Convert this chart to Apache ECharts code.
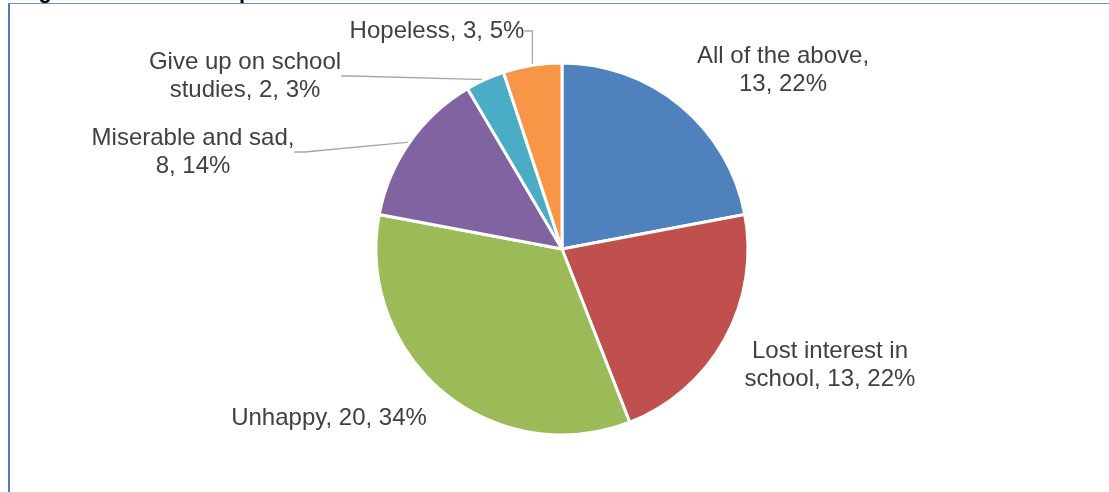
<!DOCTYPE html>
<html>
<head>
<meta charset="UTF-8">
<title>Pie chart</title>
<script type="text/javascript" src="https://cdn.jsdelivr.net/npm/echarts@6/dist/echarts.min.js"></script>
<style>
  html, body { margin:0; padding:0; background:#fff; }
  #frame { position:absolute; left:8px; top:3px; width:1101px; height:489px;
           border-left:2px solid #4a7ebb; border-top:1px solid #6a93c6; }
  #main { position:absolute; left:0; top:0; width:1109px; height:492px; }
</style>
</head>
<body>
<div id="main"></div>
<div id="frame"></div>
<script type="text/javascript">
  // slices, clockwise from 12 o'clock
  var names = ['All of the above', 'Lost interest in school', 'Unhappy',
               'Miserable and sad', 'Give up on school studies', 'Hopeless'];
  var counts = [13, 13, 20, 8, 2, 3];
  var colors = ['#4f81bd', '#c0504d', '#9bbb59', '#8064a2', '#4bacc6', '#f79646'];
  // where the label text wraps (char index of the space to break), 0 = no wrap
  var breakAt = [17, 16, 0, 18, 17, 0];
  // label centres, like in the excel chart
  var labelPos = [[783, 70], [830, 365], [329, 418], [193, 152], [245, 76], [437, 31]];
  var leader = [false, false, false, true, true, true];

  var myChart = echarts.init(document.getElementById('main'));

  var option = {
    animation: false,
    title: {
      text: 'Figure 4: Student responses',
      left: 14,
      top: -24,
      textStyle: { fontFamily: 'Liberation Sans', fontSize: 22, fontWeight: 'bold', color: '#000' }
    },
    series: [{
      type: 'pie',
      center: [562, 249],
      radius: [0, 186],
      startAngle: 90,
      itemStyle: { borderColor: '#fff', borderWidth: 3 },
      label: {
        show: true,
        position: 'outside',
        color: '#404040',
        fontFamily: 'Liberation Sans',
        fontSize: 24,
        lineHeight: 28,
        align: 'center',
        formatter: function (p) {
          var s = p.name + ', ' + p.value + ', ' + Math.round(p.percent) + '%';
          var b = breakAt[p.dataIndex];
          if (b > 0) s = s.substring(0, b) + '\n' + s.substring(b + 1);
          return s;
        }
      },
      labelLine: { length: 10, length2: 10, lineStyle: { color: '#a6a6a6', width: 1.3 } },
      labelLayout: function (params) {
        var p = labelPos[params.dataIndex];
        return { x: p[0], y: p[1], align: 'center', verticalAlign: 'middle' };
      },
      data: names.map(function (n, i) {
        return {
          name: n,
          value: counts[i],
          itemStyle: { color: colors[i] },
          labelLine: { show: leader[i] }
        };
      })
    }]
  };
  myChart.setOption(option);
</script>
</body>
</html>
